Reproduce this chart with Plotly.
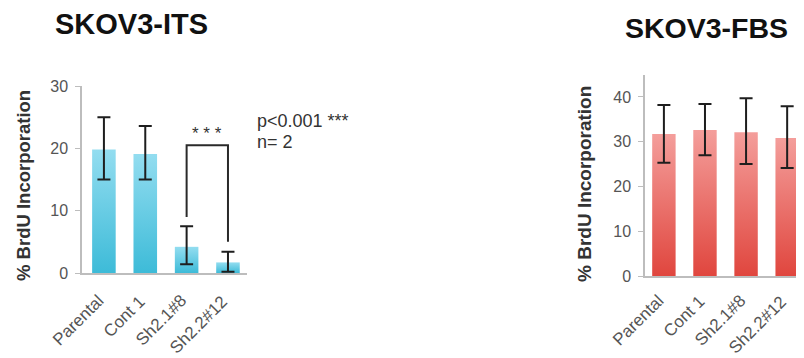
import plotly.graph_objects as go

categories = ["Parental", "Cont 1", "Sh2.1#8", "Sh2.2#12"]

its_values = [19.8, 19.1, 4.2, 1.7]
its_err_plus = [5.2, 4.5, 3.3, 1.7]
its_err_minus = [4.8, 4.1, 2.8, 1.5]

fbs_values = [31.7, 32.6, 32.1, 30.8]
fbs_err_plus = [6.5, 5.8, 7.6, 7.1]
fbs_err_minus = [6.4, 5.6, 7.1, 6.7]

its_ticks = [0, 10, 20, 30]
fbs_ticks = [0, 10, 20, 30, 40]

bracket_top = 20.5
bracket_left_end = 9.0
bracket_right_end = 5.0
bracket_pair = [2, 3]

BAR_HALF = 0.285
FONT = "Liberation Sans, Arial, sans-serif"

# page body has an 8px margin; figure is sized so it ends at the window edge
OFF = 8
W, H = 804 - OFF, 358 - OFF


def px(x):
    return (x - OFF) / W


def py(y):
    return 1 - (y - OFF) / H


fig = go.Figure()


def add_bars(values, err_p, err_m, xa, ya, dark, light):
    for i, v in enumerate(values):
        fig.add_trace(go.Scatter(
            x=[i - BAR_HALF, i + BAR_HALF, i + BAR_HALF, i - BAR_HALF, i - BAR_HALF],
            y=[0, 0, v, v, 0],
            mode="lines", line=dict(width=0), fill="toself",
            fillgradient=dict(type="vertical", colorscale=[[0, dark], [1, light]]),
            xaxis=xa, yaxis=ya, showlegend=False, hoverinfo="skip"))
    fig.add_trace(go.Scatter(
        x=list(range(len(values))), y=values, mode="markers",
        marker=dict(size=1, opacity=0),
        error_y=dict(type="data", array=err_p, arrayminus=err_m, symmetric=False,
                     color="#1e1e1e", thickness=2, width=6.5),
        xaxis=xa, yaxis=ya, showlegend=False, hoverinfo="skip"))


add_bars(its_values, its_err_plus, its_err_minus, "x", "y", "#3dbbd8", "#93ddf0")
add_bars(fbs_values, fbs_err_plus, fbs_err_minus, "x2", "y2", "#e0463e", "#f49e9b")

# significance bracket
fig.add_trace(go.Scatter(
    x=[bracket_pair[0], bracket_pair[0], bracket_pair[1], bracket_pair[1]],
    y=[bracket_left_end, bracket_top, bracket_top, bracket_right_end],
    mode="lines", line=dict(color="#2a2a2a", width=2),
    xaxis="x", yaxis="y", showlegend=False, hoverinfo="skip"))

axis_common = dict(showgrid=False, zeroline=False, showline=True, linecolor="#bdbdbd",
                   linewidth=1.5, automargin=False,
                   tickfont=dict(family=FONT, size=16, color="#555555"))

fig.update_layout(
    width=W, height=H, margin=dict(l=0, r=0, t=0, b=0, autoexpand=False),
    paper_bgcolor="white", plot_bgcolor="white",
    xaxis=dict(domain=[px(82), px(247)], range=[-0.53, 3.46], tickvals=list(range(4)),
               showticklabels=False, ticks="", anchor="y", **axis_common),
    yaxis=dict(domain=[py(273), py(86)], range=[0, 30], tickvals=its_ticks,
               ticks="outside", ticklen=5, tickcolor="#bdbdbd", anchor="x",
               ticklabelstandoff=4, **axis_common),
    xaxis2=dict(domain=[px(645), 1.0], range=[-0.46, 3.41], tickvals=list(range(4)),
                showticklabels=False, ticks="", anchor="y2", **axis_common),
    yaxis2=dict(domain=[py(276), py(75)], range=[0, 44.9], tickvals=fbs_ticks,
                ticks="outside", ticklen=5, tickcolor="#bdbdbd", anchor="x2",
                ticklabelstandoff=4, **axis_common),
)

# rotated category labels (top-right end sits just below each bar)
for xa, label_y in (("x", 289), ("x2", 289)):
    for i, name in enumerate(categories):
        fig.add_annotation(xref=xa, yref="paper", x=i + 0.15, y=py(label_y), text=name,
                           textangle=-45, showarrow=False, xanchor="right", yanchor="top",
                           font=dict(family=FONT, size=17, color="#555555"))

ann = [
    dict(text="<b>SKOV3-ITS</b>", x=px(131), y=py(24), font=dict(size=29, color="#111111")),
    dict(text="<b>SKOV3-FBS</b>", x=px(706), y=py(28), font=dict(size=28.5, color="#111111")),
    dict(text="<b>% BrdU Incorporation</b>", x=px(23), y=py(186), textangle=-90,
         font=dict(size=18.5, color="#333333")),
    dict(text="<b>% BrdU Incorporation</b>", x=px(584), y=py(184), textangle=-90,
         font=dict(size=19, color="#333333")),
    dict(text="p<0.001 ***", x=px(255), y=py(121), xanchor="left",
         font=dict(size=18, color="#333333")),
    dict(text="n= 2", x=px(255), y=py(142), xanchor="left",
         font=dict(size=18, color="#333333")),
]
for a in ann:
    a.setdefault("xanchor", "center")
    fig.add_annotation(xref="paper", yref="paper", yanchor="middle", showarrow=False,
                       **{k: v for k, v in a.items() if k != "font"},
                       font=dict(family=FONT, **a["font"]))

fig.add_annotation(xref="x", yref="y", x=(bracket_pair[0] + bracket_pair[1]) / 2, y=bracket_top,
                   text="* * *", showarrow=False, yanchor="bottom",
                   font=dict(family=FONT, size=17, color="#333333"))

fig.write_html("out.html")
